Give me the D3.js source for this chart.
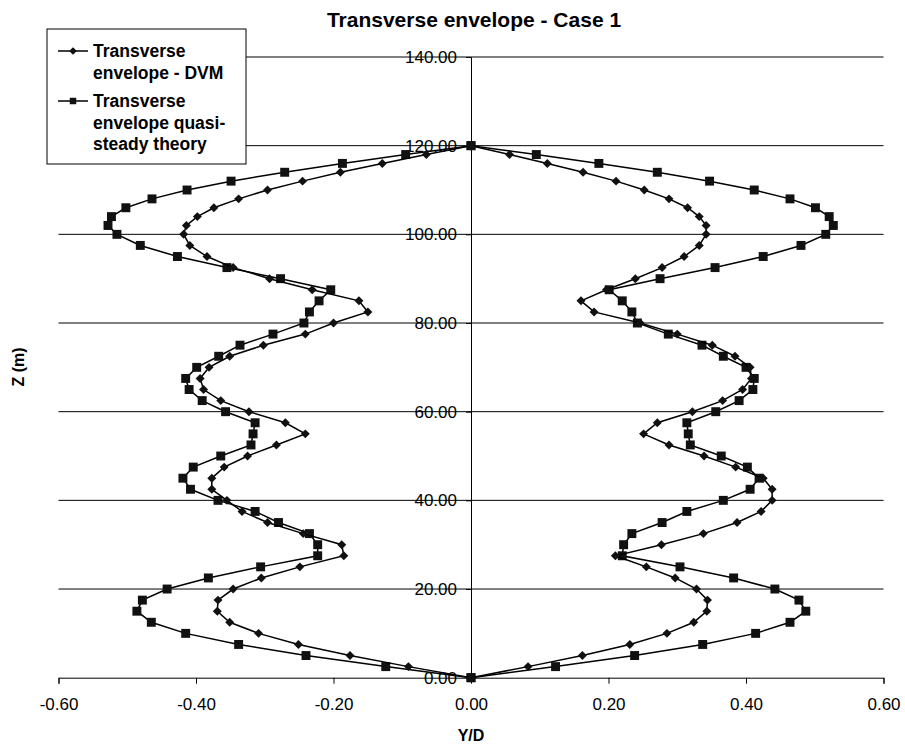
<!DOCTYPE html>
<html lang="en">
<head>
<meta charset="utf-8">
<title>Transverse envelope - Case 1</title>
<script src="https://cdn.jsdelivr.net/npm/d3@7"></script>
<style>
  body { margin: 0; background: #fff; }
  text { font-family: Arial, "Liberation Sans", sans-serif; fill: #000; }
</style>
</head>
<body>
<script>
// Z levels (m)
var zLevels = [0, 2.5, 5, 7.5, 10, 12.5, 15, 17.5, 20, 22.5, 25, 27.5, 30, 32.5, 35, 37.5,
               40, 42.5, 45, 47.5, 50, 52.5, 55, 57.5, 60, 62.5, 65, 67.5, 70, 72.5, 75, 77.5,
               80, 82.5, 85, 87.5, 90, 92.5, 95, 97.5, 100, 102, 104, 106, 108, 110, 112, 114,
               116, 118, 120];

// DVM envelope, left and right branch (Y/D)
var dvmLeft = [0, -0.091, -0.176, -0.251, -0.309, -0.351, -0.369, -0.368, -0.346, -0.305, -0.249,
               -0.185, -0.188, -0.244, -0.296, -0.333, -0.355, -0.377, -0.377, -0.359, -0.325,
               -0.283, -0.241, -0.270, -0.323, -0.364, -0.389, -0.394, -0.381, -0.351, -0.302,
               -0.241, -0.200, -0.150, -0.163, -0.231, -0.293, -0.346, -0.384, -0.409, -0.418,
               -0.414, -0.398, -0.374, -0.338, -0.296, -0.245, -0.190, -0.129, -0.065, 0];
var dvmRight = [0, 0.083, 0.162, 0.231, 0.285, 0.324, 0.343, 0.344, 0.328, 0.297, 0.255,
                0.210, 0.277, 0.338, 0.387, 0.422, 0.438, 0.438, 0.425, 0.385, 0.339,
                0.288, 0.251, 0.271, 0.322, 0.366, 0.395, 0.408, 0.406, 0.384, 0.351,
                0.300, 0.246, 0.179, 0.160, 0.197, 0.239, 0.278, 0.310, 0.332, 0.342,
                0.342, 0.332, 0.315, 0.288, 0.252, 0.211, 0.163, 0.111, 0.056, 0];

// quasi-steady theory envelope, left and right branch (Y/D)
var qstLeft = [0, -0.124, -0.240, -0.338, -0.415, -0.465, -0.486, -0.478, -0.442, -0.382, -0.306,
               -0.223, -0.223, -0.235, -0.280, -0.314, -0.368, -0.408, -0.419, -0.404, -0.364,
               -0.320, -0.317, -0.314, -0.357, -0.391, -0.410, -0.415, -0.399, -0.367, -0.336,
               -0.288, -0.243, -0.235, -0.221, -0.204, -0.277, -0.355, -0.427, -0.481, -0.515,
               -0.528, -0.523, -0.502, -0.464, -0.413, -0.349, -0.271, -0.187, -0.095, 0];
var qstRight = [0, 0.123, 0.238, 0.337, 0.414, 0.464, 0.487, 0.477, 0.442, 0.382, 0.304,
                0.220, 0.222, 0.234, 0.278, 0.314, 0.367, 0.406, 0.419, 0.402, 0.364,
                0.319, 0.316, 0.314, 0.356, 0.390, 0.410, 0.412, 0.400, 0.367, 0.336,
                0.287, 0.242, 0.234, 0.220, 0.201, 0.275, 0.355, 0.425, 0.480, 0.516,
                0.527, 0.521, 0.501, 0.464, 0.412, 0.347, 0.271, 0.186, 0.095, 0];

var xTicks = [-0.6, -0.4, -0.2, 0, 0.2, 0.4, 0.6];
var yTicks = [0, 20, 40, 60, 80, 100, 120, 140];

var w = 905, h = 749;

var xScale = d3.scaleLinear().domain([-0.6, 0.6]).range([58.5, 883.5]);
var yScale = d3.scaleLinear().domain([0, 140]).range([677.7, 57]);

var svg = d3.select("body").append("svg")
            .attr("width", w)
            .attr("height", h);

// y tick labels (drawn under gridlines, like the original)
svg.selectAll("text.ylab")
   .data(yTicks)
   .enter()
   .append("text")
   .attr("class", "ylab")
   .attr("x", xScale(0) - 14)
   .attr("y", function(d) { return yScale(d); })
   .attr("dy", "0.36em")
   .attr("text-anchor", "end")
   .attr("font-size", "17px")
   .attr("fill", "#222")
   .text(function(d) { return d.toFixed(2); });

// gridlines
svg.selectAll("line.grid")
   .data(yTicks.filter(function(d) { return d > 0; }))
   .enter()
   .append("line")
   .attr("class", "grid")
   .attr("x1", xScale(-0.6))
   .attr("x2", xScale(0.6))
   .attr("y1", function(d) { return yScale(d); })
   .attr("y2", function(d) { return yScale(d); })
   .attr("stroke", "#000")
   .attr("stroke-width", 1);

// y axis at x = 0
var yAxis = d3.axisLeft(yScale).tickValues(yTicks).tickSize(5).tickFormat("");
svg.append("g")
   .attr("transform", "translate(" + xScale(0) + ",0)")
   .call(yAxis)
   .call(function(g) { g.selectAll("path, line").attr("stroke", "#000"); });

// x axis
var xAxis = d3.axisBottom(xScale).tickValues(xTicks).tickSize(6)
              .tickFormat(function(d) { return d.toFixed(2); });
var gx = svg.append("g")
   .attr("transform", "translate(0," + yScale(0) + ")")
   .call(xAxis);
gx.select(".domain").attr("stroke", "#000");
gx.selectAll(".tick line").attr("stroke", "#000");
gx.selectAll(".tick text")
  .attr("font-size", "17px")
  .attr("font-family", "Arial, 'Liberation Sans', sans-serif")
  .attr("fill", "#222")
  .attr("y", 20);

// one path per series: left branch going up, right branch coming down
function branchPoints(left, right) {
  var pts = [];
  zLevels.forEach(function(z, i) { pts.push([left[i], z]); });
  for (var i = zLevels.length - 1; i >= 0; i--) pts.push([right[i], zLevels[i]]);
  return pts;
}

var line = d3.line()
             .x(function(d) { return xScale(d[0]); })
             .y(function(d) { return yScale(d[1]); });

// diamonds are squares turned 45 degrees
var series = [
  { pts: branchPoints(qstLeft, qstRight), size: 80, rot: 0 },
  { pts: branchPoints(dvmLeft, dvmRight), size: 40, rot: 45 }
];

series.forEach(function(s) {
  svg.append("path")
     .attr("d", line(s.pts))
     .attr("fill", "none")
     .attr("stroke", "#000")
     .attr("stroke-width", 1.5);

  svg.selectAll(null)
     .data(s.pts)
     .enter()
     .append("path")
     .attr("transform", function(d) {
        return "translate(" + xScale(d[0]) + "," + yScale(d[1]) + ") rotate(" + s.rot + ")";
     })
     .attr("d", d3.symbol().type(d3.symbolSquare).size(s.size))
     .attr("fill", "#111");
});

// title and axis labels
svg.append("text")
   .attr("x", 474).attr("y", 27)
   .attr("text-anchor", "middle")
   .attr("font-size", "21px")
   .attr("font-weight", "bold")
   .text("Transverse envelope - Case 1");

svg.append("text")
   .attr("x", 471).attr("y", 741)
   .attr("text-anchor", "middle")
   .attr("font-size", "16px")
   .attr("font-weight", "bold")
   .text("Y/D");

svg.append("text")
   .attr("transform", "translate(24,367) rotate(-90)")
   .attr("text-anchor", "middle")
   .attr("font-size", "16px")
   .attr("font-weight", "bold")
   .text("Z (m)");

// legend
var legend = svg.append("g");
legend.append("rect")
      .attr("x", 47).attr("y", 29)
      .attr("width", 199).attr("height", 135)
      .attr("fill", "#fff")
      .attr("stroke", "#000");

var legendRows = [
  { lines: ["Transverse", "envelope - DVM"], size: 30, rot: 45, y: 51 },
  { lines: ["Transverse", "envelope quasi-", "steady theory"], size: 42, rot: 0, y: 101 }
];

legendRows.forEach(function(r) {
  legend.append("line")
        .attr("x1", 58).attr("x2", 88)
        .attr("y1", r.y).attr("y2", r.y)
        .attr("stroke", "#000").attr("stroke-width", 1.5);
  legend.append("path")
        .attr("transform", "translate(73," + r.y + ") rotate(" + r.rot + ")")
        .attr("d", d3.symbol().type(d3.symbolSquare).size(r.size))
        .attr("fill", "#111");
  legend.selectAll(null)
        .data(r.lines)
        .enter()
        .append("text")
        .attr("x", 93)
        .attr("y", function(d, i) { return r.y + 6 + i * 21.5; })
        .attr("font-size", "17.5px")
        .attr("font-weight", "bold")
        .text(function(d) { return d; });
});
</script>
</body>
</html>
